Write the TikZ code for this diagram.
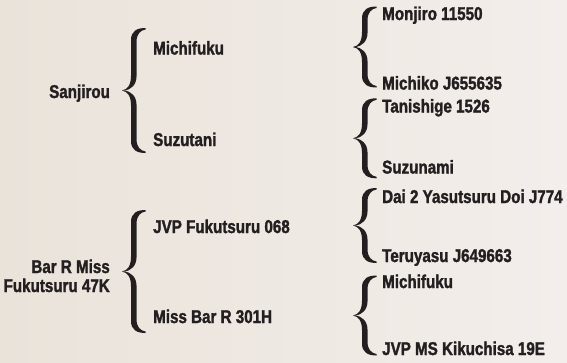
\documentclass[tikz,border=0pt]{standalone}
\usepackage{fontspec}
\newfontfamily\horsefont{Liberation Sans Bold}[FakeStretch=0.82, FakeBold=1.6]
\definecolor{ink}{HTML}{231F20}
\definecolor{bgA}{HTML}{EAE3DA}
\definecolor{bgB}{HTML}{F3EEEB}
\tikzset{
  horse/.style={anchor=base west, font=\horsefont\fontsize{18.5}{19.5}\selectfont, text=ink, inner sep=0pt},
  horseR/.style={horse, anchor=base east},
  pics/curly/.style={code={
    \foreach \s in {1,-1}{
      \fill[ink,yscale=\s] (0,0) .. controls (6,1) and (9,6) .. (9,15)
        -- (9,#1-12) .. controls (9,#1-3) and (15,#1) .. (23.5,#1)
        -- (23.5,#1-1.5) .. controls (18.5,#1-2.2) and (14.5,#1-6) .. (14.5,#1-14)
        -- (14.5,14) .. controls (14.5,5) and (8,0.8) .. (3,0) -- cycle;
    }
  }}
}
\begin{document}
\begin{tikzpicture}[x=1pt,y=-1pt]
\useasboundingbox (0,0) rectangle (567,362);
\clip (0,0) rectangle (567,362);
\shade[left color=bgA, right color=bgB] (0,0) rectangle (567,362);

% generation 1
\node[horse] (san) at (49,98) {Sanjirou};
\node[horseR] (bar1) at (110,273) {Bar R Miss};
\node[horseR] (bar2) at (110,292) {Fukutsuru 47K};

% generation 2
\node[horse] (mic) at (153,54.5) {Michifuku};
\node[horse] (suz) at (153,146) {Suzutani};
\node[horse] (jvp) at (153,233) {JVP Fukutsuru 068};
\node[horse] (mbr) at (153,323) {Miss Bar R 301H};

% generation 3
\node[horse] (mon) at (382,20) {Monjiro 11550};
\node[horse] (mko) at (382,89.5) {Michiko J655635};
\node[horse] (tan) at (382,112.5) {Tanishige 1526};
\node[horse] (szn) at (382,173.5) {Suzunami};
\node[horse] (dai) at (382,203) {Dai 2 Yasutsuru Doi J774};
\node[horse] (ter) at (382,262) {Teruyasu J649663};
\node[horse] (mic2) at (382,288) {Michifuku};
\node[horse] (kik) at (382,355) {JVP MS Kikuchisa 19E};

% braces
\pic at (122,90.5) {curly=62.5};
\pic at (122,271.5) {curly=61.5};
\pic at (353,47) {curly=40.5};
\pic at (353,138.3) {curly=40};
\pic at (353,225.5) {curly=37.5};
\pic at (353,315.5) {curly=40};
\end{tikzpicture}
\end{document}
